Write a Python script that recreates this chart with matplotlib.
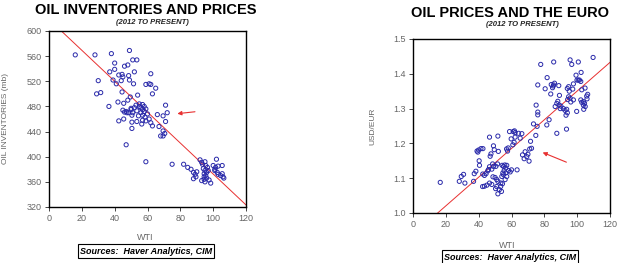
import matplotlib
matplotlib.use("Agg")
import matplotlib.pyplot as plt
import numpy as np

plt.rcParams['font.family'] = ['Liberation Sans', 'DejaVu Sans']

# ---------------- data: left panel ----------------
inv_wti = [16, 28, 38, 49, 51, 53.5, 40, 46, 48, 37, 40, 52, 62,
           30, 39, 41, 44, 45, 48.5, 42.5, 44.5, 49, 51.5, 59, 61, 62, 65, 63,
           29, 31.5, 44.5, 54, 36.5, 42, 45.5, 48, 49.5,
           50, 51, 50, 53.5, 55, 56, 57, 56, 58, 59, 57, 58.5, 59, 57, 56.5, 53.5, 54.5,
           50.5, 47.5, 47, 48.5, 55, 57, 58, 60, 61, 52, 53, 45, 46,
           71, 72, 66, 69.5, 71, 42.5, 45.5, 50.5, 50.5, 62, 63, 67, 69.5, 70.5, 68, 69.5,
           47, 59, 75,
           82, 84.5, 86.5, 88, 89, 88, 90, 89.5,
           92, 93, 93.5, 95, 95.5, 94, 95, 94.5, 94.5, 94.5, 96, 97.5, 98.5, 95.5, 96, 96.5, 97, 93, 95,
           102, 100, 101.5, 101, 102.5, 103, 105.5, 105.5, 106, 103, 104.5, 106.5, 101]
inv_mb = [562, 562, 564, 569, 554, 554, 549, 544, 546, 535, 539, 535, 532,
          521, 522, 516, 521, 527, 529, 530, 531, 522, 516, 515, 516, 515, 509, 500,
          500, 502, 503, 498, 480, 487, 485, 490, 495,
          475, 470, 477, 473, 480, 478, 475, 470, 472, 476, 466, 463, 457, 458, 452, 456, 465,
          466, 470, 472, 470, 484, 483, 480, 468, 460, 478, 482, 474, 471,
          482, 470, 467, 465, 456, 457, 460, 455, 445, 454, 449, 448, 441, 437, 433, 433,
          419, 392, 388,
          388, 383, 380, 375, 372, 365, 376, 368,
          395, 391, 388, 392, 386, 381, 378, 373, 368, 364, 366, 363, 358, 370, 375, 383, 378, 362, 360,
          396, 386, 383, 378, 375, 385, 386, 373, 368, 372, 370, 366, 380]
inv_fit = [-2.46, 618.5]      # slope, intercept of the red trend line

# ---------------- data: right panel ----------------
eur_wti = [16.6, 28.2, 29.4, 30.8, 31.6, 36.9, 37.3, 38.3, 39, 40, 39.5, 40.3, 40.5, 41.4, 42.6,
           42.5, 43.5, 44.5, 45.5, 46, 46.6, 42.4, 43.5, 45, 46.6, 46.6, 47, 47.5, 48.5, 49, 48,
           48.7, 48, 49, 49.5, 50, 51, 51.7, 50.3, 51, 51.7, 52.6, 53.4, 53.9, 50.5, 51.5, 51.7, 52,
           54.3, 55.1, 55.9, 56.5, 57.1, 55.5, 54.7, 54.1, 55.1, 56.5, 58.2, 59.2, 60, 57.1, 56.1,
           53.5, 54.5,
           57, 58, 57.6, 58.8, 61, 61.8, 62.2, 59.8, 62.2, 64.3, 65.3, 66.3, 60.8, 61.6, 63.4,
           66.7, 67.7, 68.3, 69.3, 70, 70.7, 71.1, 71.6, 72.2, 73.4, 74.8, 75, 75.6, 76, 76, 76,
           77.8, 80.5, 81.7, 81.5, 82.9, 83.9,
           84.2, 85, 85.6, 86.2, 85.4, 85.7, 86.6, 87.6, 87.6, 88.8, 89.2, 88.2, 89.7, 90.1, 89.1,
           91.6, 92.6, 94, 93.2, 93.6, 94.2, 94.8, 93.5, 94, 94.8, 95.2, 95.7, 96.7, 95.7, 96.1,
           97.7, 97.3, 97.7, 99.3, 99.9, 100.7, 99.7, 100.7, 101.4, 102.2, 102.2, 102.8, 103.8,
           102.4, 102.8, 103.8, 104.8, 105.8, 106.4, 106, 104.5, 104.9, 104, 109.7]
eur_usd = [1.088, 1.091, 1.105, 1.111, 1.086, 1.091, 1.113, 1.120, 1.178, 1.181, 1.175, 1.150,
           1.137, 1.185, 1.185,
           1.112, 1.108, 1.113, 1.121, 1.125, 1.133, 1.076, 1.077, 1.080, 1.086, 1.218, 1.163,
           1.170, 1.141, 1.134, 1.126,
           1.104, 1.082, 1.193, 1.182, 1.102, 1.096, 1.091, 1.070, 1.076, 1.055, 1.067, 1.076,
           1.062, 1.134, 1.141, 1.221, 1.177,
           1.137, 1.134, 1.138, 1.129, 1.137, 1.122, 1.115, 1.105, 1.110, 1.115, 1.122, 1.118,
           1.124, 1.105, 1.096, 1.086, 1.084,
           1.184, 1.187, 1.178, 1.234, 1.234, 1.236, 1.231, 1.213, 1.218, 1.229, 1.215, 1.228,
           1.196, 1.203, 1.124,
           1.167, 1.156, 1.176, 1.162, 1.169, 1.149, 1.184, 1.206, 1.186, 1.256, 1.223, 1.310,
           1.249, 1.282, 1.290, 1.368,
           1.427, 1.357, 1.389, 1.253, 1.268, 1.342,
           1.369, 1.360, 1.368, 1.373, 1.365, 1.434, 1.306, 1.315, 1.229, 1.366, 1.338, 1.321,
           1.300, 1.307, 1.310,
           1.300, 1.295, 1.288, 1.281, 1.298, 1.326, 1.334, 1.241, 1.358, 1.363, 1.350, 1.440,
           1.427, 1.330, 1.319,
           1.325, 1.356, 1.371, 1.396, 1.382, 1.382, 1.292, 1.434, 1.382, 1.378, 1.325, 1.318,
           1.320,
           1.404, 1.354, 1.310, 1.359, 1.336, 1.341, 1.328, 1.315, 1.306, 1.298, 1.447]
eur_fit = [0.004124, 0.938]   # slope, intercept of the red trend line

# arrows (tail, head) in data coords
inv_arrow = [(90.6, 472), (76.5, 468)]
eur_arrow = [(95.0, 1.143), (77.4, 1.177)]

x_ticks = [0, 20, 40, 60, 80, 100, 120]
inv_ticks = [320, 360, 400, 440, 480, 520, 560, 600]
eur_ticks = [1.0, 1.1, 1.2, 1.3, 1.4, 1.5]

MK = '#2a2aaa'
RED = '#e83030'
TICKC = '#666666'

fig = plt.figure(figsize=(6.24, 2.63), dpi=100)
fig.patch.set_facecolor('white')

ax1 = fig.add_axes([49/624, 1-207/263, 197/624, 176/263])
ax2 = fig.add_axes([413/624, 1-213/263, 197/624, 174/263])


def style(ax):
    for s in ax.spines.values():
        s.set_color('black')
        s.set_linewidth(1.0)
    ax.tick_params(axis='both', labelsize=6.5, labelcolor=TICKC, color='#444444',
                   length=3, width=0.7, direction='out', pad=2)


# left
ax1.scatter(inv_wti, inv_mb, s=9, facecolors='none', edgecolors=MK, linewidths=0.7, zorder=3)
xs = np.array([0, 120])
ax1.plot(xs, inv_fit[0]*xs + inv_fit[1], color=RED, lw=0.7, zorder=2)
ax1.set_xlim(0, 120)
ax1.set_ylim(320, 600)
ax1.set_xticks(x_ticks)
ax1.set_yticks(inv_ticks)
style(ax1)
ax1.annotate('', xy=inv_arrow[1], xytext=inv_arrow[0],
             arrowprops=dict(arrowstyle='-|>', color=RED, lw=0.8, mutation_scale=6))

# right
ax2.scatter(eur_wti, eur_usd, s=9, facecolors='none', edgecolors=MK, linewidths=0.7, zorder=3)
ax2.plot(xs, eur_fit[0]*xs + eur_fit[1], color=RED, lw=0.7, zorder=2)
ax2.set_xlim(0, 120)
ax2.set_ylim(1.0, 1.5)
ax2.set_xticks(x_ticks)
ax2.set_yticks(eur_ticks)
ax2.set_yticklabels([f'{v:.1f}' for v in eur_ticks])
style(ax2)
ax2.annotate('', xy=eur_arrow[1], xytext=eur_arrow[0],
             arrowprops=dict(arrowstyle='-|>', color=RED, lw=0.8, mutation_scale=6))

# titles
fig.text(146/624, 1-10/263, 'OIL INVENTORIES AND PRICES', ha='center', va='center',
         fontsize=10.5, fontweight='bold', color='black')
fig.text(152/624, 1-22/263, '(2012 TO PRESENT)', ha='center', va='center',
         fontsize=5.5, fontweight='bold', style='italic', color='#222222')
fig.text(510/624, 1-13/263, 'OIL PRICES AND THE EURO', ha='center', va='center',
         fontsize=10.5, fontweight='bold', color='black')
fig.text(522/624, 1-25/263, '(2012 TO PRESENT)', ha='center', va='center',
         fontsize=5.5, fontweight='bold', style='italic', color='#222222')

# axis labels
fig.text(145/624, 1-238/263, 'WTI', ha='center', va='center', fontsize=6.5, color=TICKC)
fig.text(507/624, 1-245/263, 'WTI', ha='center', va='center', fontsize=6.5, color=TICKC)
fig.text(6/624, 1-119/263, 'OIL INVENTORIES (mb)', ha='center', va='center', fontsize=6,
         color=TICKC, rotation=90)
fig.text(373/624, 1-126/263, 'USD/EUR', ha='center', va='center', fontsize=6,
         color=TICKC, rotation=90)

# sources
box = dict(boxstyle='square,pad=0.25', fc='white', ec='black', lw=0.8)
fig.text(146/624, 1-251/263, 'Sources:  Haver Analytics, CIM', ha='center', va='center',
         fontsize=6.5, fontweight='bold', style='italic', bbox=box)
fig.text(510/624, 1-257/263, 'Sources:  Haver Analytics, CIM', ha='center', va='center',
         fontsize=6.5, fontweight='bold', style='italic', bbox=box)

fig.savefig('out.png', dpi=100, facecolor='white')
